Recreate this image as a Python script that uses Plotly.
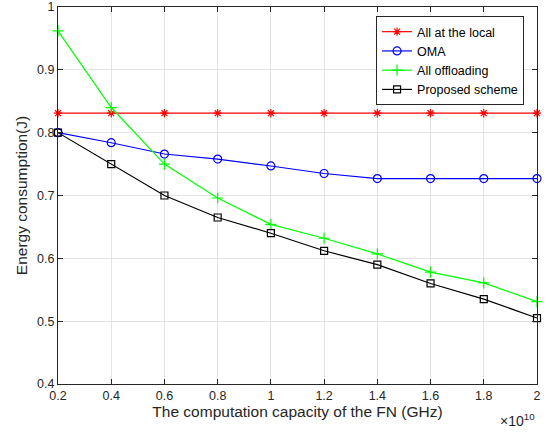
import plotly.graph_objects as go

x_capacity = [0.2, 0.4, 0.6, 0.8, 1.0, 1.2, 1.4, 1.6, 1.8, 2.0]  # x 1e10
local_energy = [0.831, 0.831, 0.831, 0.831, 0.831, 0.831, 0.831, 0.831, 0.831, 0.831]
oma_energy = [0.800, 0.784, 0.766, 0.758, 0.747, 0.735, 0.727, 0.727, 0.727, 0.727]
offload_energy = [0.962, 0.840, 0.750, 0.696, 0.654, 0.632, 0.607, 0.578, 0.561, 0.531]
proposed_energy = [0.800, 0.750, 0.700, 0.665, 0.640, 0.612, 0.590, 0.560, 0.535, 0.505]

x_ticks = [0.2, 0.4, 0.6, 0.8, 1.0, 1.2, 1.4, 1.6, 1.8, 2.0]
x_tick_labels = ["0.2", "0.4", "0.6", "0.8", "1", "1.2", "1.4", "1.6", "1.8", "2"]
y_ticks = [0.4, 0.5, 0.6, 0.7, 0.8, 0.9, 1.0]
y_tick_labels = ["0.4", "0.5", "0.6", "0.7", "0.8", "0.9", "1"]

FONT = "Liberation Sans, Arial, Helvetica, sans-serif"

series = [
    ("All at the local", local_energy, "#ff0000", "asterisk-open", 7),
    ("OMA", oma_energy, "#0000ff", "circle-open", 8),
    ("All offloading", offload_energy, "#00ff00", "cross-thin-open", 8),
    ("Proposed scheme", proposed_energy, "#000000", "square-open", 7),
]

fig = go.Figure()
for name, vals, color, sym, size in series:
    fig.add_trace(go.Scatter(
        x=x_capacity, y=vals, name=name, mode="lines+markers",
        line=dict(color=color, width=1.2),
        marker=dict(symbol=sym, size=size, color=color, line=dict(color=color, width=1.2)),
        cliponaxis=False,
    ))

axis_common = dict(
    showgrid=True, gridcolor="#e3e3e3", gridwidth=1,
    showline=True, linecolor="#262626", linewidth=1, mirror="ticks",
    ticks="inside", ticklen=5, tickcolor="#262626",
    tickfont=dict(family=FONT, size=12.5, color="#262626"),
    ticklabeloverflow="allow", automargin=False,
    zeroline=False,
)

fig.update_layout(
    width=547, height=433,
    margin=dict(l=58, r=10, t=7, b=49, autoexpand=False),
    paper_bgcolor="white", plot_bgcolor="white",
    font=dict(family=FONT, color="#262626"),
    xaxis=dict(range=[0.2, 2.0], tickvals=x_ticks, ticktext=x_tick_labels,
               title=dict(text="The computation capacity of the FN (GHz)",
                          font=dict(family=FONT, size=15.5, color="#262626"), standoff=3),
               **axis_common),
    yaxis=dict(range=[0.4, 1.0], tickvals=y_ticks, ticktext=y_tick_labels,
               title=dict(text="Energy consumption(J)",
                          font=dict(family=FONT, size=15.5, color="#262626"), standoff=5),
               **axis_common),
    legend=dict(x=0.973, y=0.976, xanchor="right", yanchor="top",
                bgcolor="white", bordercolor="#262626", borderwidth=1,
                font=dict(family=FONT, size=12.5, color="#000000"),
                tracegroupgap=0, itemwidth=30),
    showlegend=True,
)

fig.add_annotation(
    xref="paper", yref="paper", x=1.0, y=-0.066, xanchor="right", yanchor="top",
    text="×10<sup>10</sup>", showarrow=False,
    font=dict(family=FONT, size=14, color="#262626"),
)

fig.write_html("out.html", config={"displayModeBar": False},
               post_script="document.body.style.margin='0';document.body.style.padding='0';")
